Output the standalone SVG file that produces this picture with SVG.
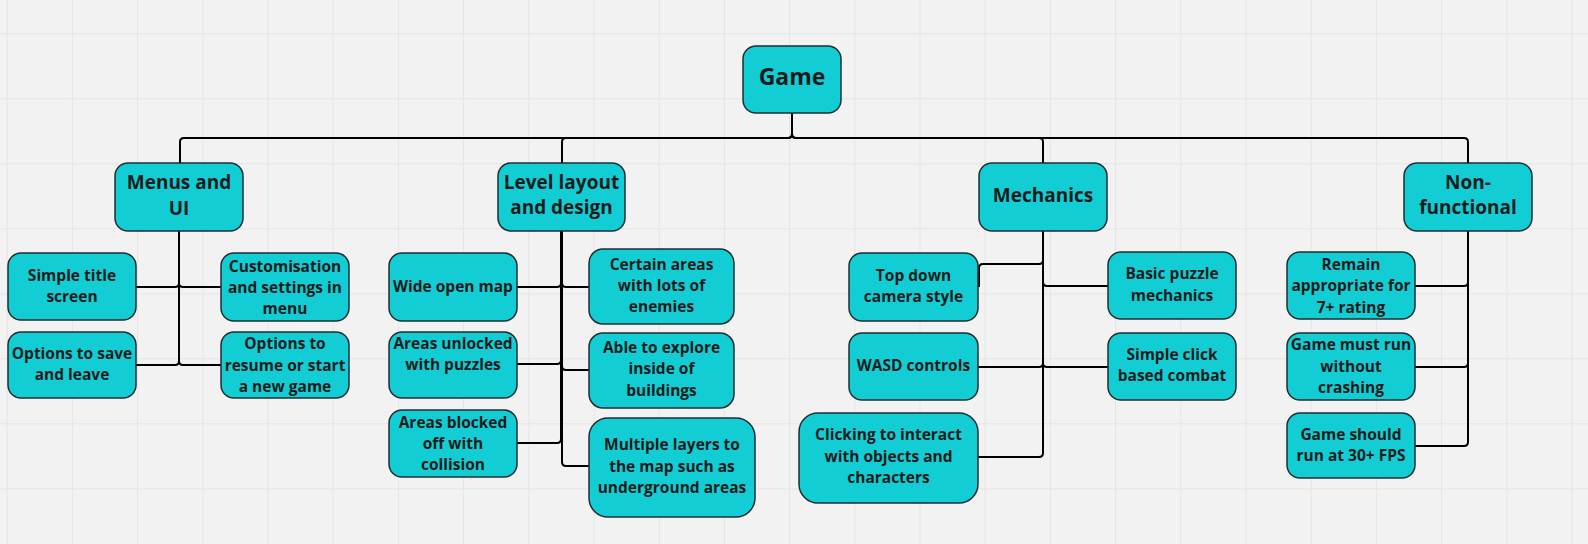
<svg xmlns="http://www.w3.org/2000/svg" width="1588" height="544" viewBox="0 0 1588 544">
<defs>
<pattern id="grid" x="6.7" y="33.3" width="65.2" height="65" patternUnits="userSpaceOnUse">
<path d="M0.5 0 V65 M0 0.5 H65.2" fill="none" stroke="#e4e4e4" stroke-width="1"/>
</pattern>
<style>
.box{fill:#12cdd4;stroke:#1e2e30;stroke-width:1.5}
.c{fill:none;stroke:#000;stroke-width:2}
text{font-family:"Open Sans","Noto Sans","DejaVu Sans",sans-serif;font-weight:700;fill:#1b1b1b;text-anchor:middle}
.t0{font-size:23px}
.t1{font-size:19px}
.t2{font-size:15.5px}
</style>
</defs>
<rect width="1588" height="544" fill="#f2f2f2"/>
<rect width="1588" height="544" fill="url(#grid)"/>

<g id="connectors">
<path class="c" d="M792 113 V134 Q792 138 788 138 H184 Q180 138 180 142 V163"/>
<path class="c" d="M792 113 V134 Q792 138 788 138 H566 Q562 138 562 142 V163"/>
<path class="c" d="M792 113 V134 Q792 138 796 138 H1039 Q1043 138 1043 142 V163"/>
<path class="c" d="M792 113 V134 Q792 138 796 138 H1464 Q1468 138 1468 142 V163"/>

<path class="c" d="M179 231 V283 Q179 287 175 287 H136"/>
<path class="c" d="M179 231 V283 Q179 287 183 287 H221"/>
<path class="c" d="M179 231 V361 Q179 365 175 365 H136"/>
<path class="c" d="M179 231 V361 Q179 365 183 365 H221"/>

<path class="c" d="M561 231 V283 Q561 287 557 287 H517"/>
<path class="c" d="M562 231 V283 Q562 287 566 287 H589"/>
<path class="c" d="M561 231 V360 Q561 364 557 364 H517"/>
<path class="c" d="M562 231 V366 Q562 370 566 370 H589"/>
<path class="c" d="M561 231 V439 Q561 443 557 443 H517"/>
<path class="c" d="M562 231 V462 Q562 466 566 466 H589"/>

<path class="c" d="M1043 231 V260 Q1043 264 1039 264 H983 Q979 264 979 268 V287"/>
<path class="c" d="M1043 231 V282 Q1043 286 1047 286 H1108"/>
<path class="c" d="M1043 231 V363 Q1043 367 1039 367 H978"/>
<path class="c" d="M1043 231 V363 Q1043 367 1047 367 H1108"/>
<path class="c" d="M1043 231 V453 Q1043 457 1039 457 H978"/>

<path class="c" d="M1468 231 V282 Q1468 286 1464 286 H1415"/>
<path class="c" d="M1468 231 V363 Q1468 367 1464 367 H1415"/>
<path class="c" d="M1468 231 V442 Q1468 446 1464 446 H1415"/>
</g>

<g id="game"><rect class="box" x="743" y="46" width="98" height="67" rx="13"/><text class="t0" x="792" y="85">Game</text></g>

<g id="menus"><rect class="box" x="115" y="163" width="128" height="68" rx="13"/><text class="t1" x="179" y="189">Menus and</text><text class="t1" x="179" y="215">UI</text></g>
<g id="level"><rect class="box" x="498" y="163" width="127" height="68" rx="13"/><text class="t1" x="561.5" y="189">Level layout</text><text class="t1" x="561.5" y="214">and design</text></g>
<g id="mechanics"><rect class="box" x="979" y="163" width="128" height="68" rx="13"/><text class="t1" x="1043" y="202">Mechanics</text></g>
<g id="nonfunctional"><rect class="box" x="1404" y="163" width="128" height="68" rx="13"/><text class="t1" x="1468" y="189">Non-</text><text class="t1" x="1468" y="214">functional</text></g>

<g id="simple-title"><rect class="box" x="8" y="253" width="128" height="67" rx="13"/><text class="t2" x="72" y="280.5">Simple title</text><text class="t2" x="72" y="301.5">screen</text></g>
<g id="customisation"><rect class="box" x="221" y="253" width="128" height="68" rx="13"/><text class="t2" x="285" y="271.5">Customisation</text><text class="t2" x="285" y="292.5">and settings in</text><text class="t2" x="285" y="314">menu</text></g>
<g id="options-save"><rect class="box" x="8" y="332" width="128" height="66" rx="13"/><text class="t2" x="72" y="359">Options to save</text><text class="t2" x="72" y="380">and leave</text></g>
<g id="options-resume"><rect class="box" x="221" y="332" width="128" height="66" rx="13"/><text class="t2" x="285" y="349">Options to</text><text class="t2" x="285" y="370.5">resume or start</text><text class="t2" x="285" y="391.5">a new game</text></g>

<g id="wide-open"><rect class="box" x="389" y="253" width="128" height="68" rx="13"/><text class="t2" x="453" y="291.5">Wide open map</text></g>
<g id="areas-unlocked"><rect class="box" x="389" y="332" width="128" height="66" rx="13"/><text class="t2" x="453" y="349">Areas unlocked</text><text class="t2" x="453" y="370">with puzzles</text></g>
<g id="areas-blocked"><rect class="box" x="389" y="410" width="128" height="67" rx="13"/><text class="t2" x="453" y="427.5">Areas blocked</text><text class="t2" x="453" y="449">off with</text><text class="t2" x="453" y="470">collision</text></g>
<g id="certain-areas"><rect class="box" x="589" y="249" width="145" height="75" rx="14"/><text class="t2" x="661.5" y="270">Certain areas</text><text class="t2" x="661.5" y="291.3">with lots of</text><text class="t2" x="661.5" y="312.3">enemies</text></g>
<g id="able-explore"><rect class="box" x="589" y="333" width="145" height="75" rx="14"/><text class="t2" x="661.5" y="353.3">Able to explore</text><text class="t2" x="661.5" y="374.3">inside of</text><text class="t2" x="661.5" y="395.5">buildings</text></g>
<g id="multiple-layers"><rect class="box" x="589" y="418" width="166" height="99" rx="19"/><text class="t2" x="672" y="450">Multiple layers to</text><text class="t2" x="672" y="471.5">the map such as</text><text class="t2" x="672" y="492.5">underground areas</text></g>

<g id="top-down"><rect class="box" x="849" y="253" width="129" height="68" rx="13"/><text class="t2" x="913.5" y="280.5">Top down</text><text class="t2" x="913.5" y="301.5">camera style</text></g>
<g id="wasd"><rect class="box" x="849" y="333" width="129" height="67" rx="13"/><text class="t2" x="913.5" y="371">WASD controls</text></g>
<g id="clicking"><rect class="box" x="799" y="413" width="179" height="90" rx="19"/><text class="t2" x="888.5" y="440">Clicking to interact</text><text class="t2" x="888.5" y="461.5">with objects and</text><text class="t2" x="888.5" y="483">characters</text></g>
<g id="basic-puzzle"><rect class="box" x="1108" y="252" width="128" height="67" rx="13"/><text class="t2" x="1172" y="279.3">Basic puzzle</text><text class="t2" x="1172" y="300.5">mechanics</text></g>
<g id="simple-click"><rect class="box" x="1108" y="333" width="128" height="67" rx="13"/><text class="t2" x="1172" y="360">Simple click</text><text class="t2" x="1172" y="381">based combat</text></g>

<g id="remain"><rect class="box" x="1287" y="252" width="128" height="67" rx="13"/><text class="t2" x="1351" y="270">Remain</text><text class="t2" x="1351" y="291.3">appropriate for</text><text class="t2" x="1351" y="312.5">7+ rating</text></g>
<g id="game-must"><rect class="box" x="1287" y="333" width="128" height="67" rx="13"/><text class="t2" x="1351" y="350">Game must run</text><text class="t2" x="1351" y="371.5">without</text><text class="t2" x="1351" y="392.5">crashing</text></g>
<g id="game-should"><rect class="box" x="1287" y="413" width="128" height="65" rx="13"/><text class="t2" x="1351" y="440">Game should</text><text class="t2" x="1351" y="460.7">run at 30+ FPS</text></g>
</svg>
